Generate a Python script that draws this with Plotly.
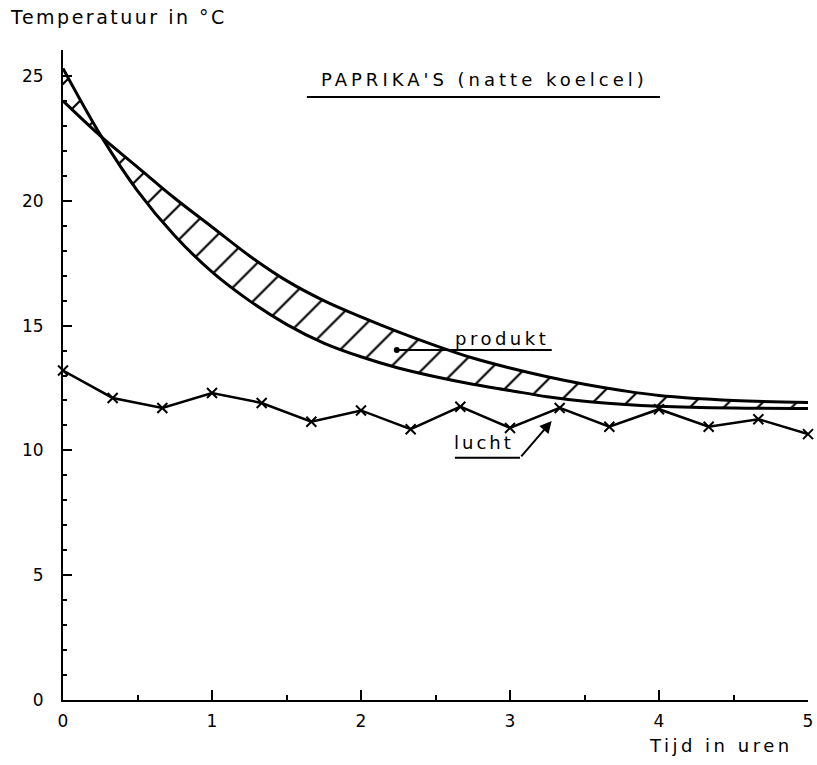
import plotly.graph_objects as go

# ---- data ----
t_prod = [0, 0.26, 0.5, 0.75, 1.0, 1.25, 1.5, 1.75, 2.0, 2.25, 2.5, 2.75, 3.0, 3.25, 3.5, 3.75, 4.0, 4.5, 5.0]
prod_a = [25.3, 22.55, 20.4, 18.6, 17.15, 16.0, 15.05, 14.3, 13.75, 13.3, 12.95, 12.65, 12.4, 12.15, 11.97, 11.85, 11.77, 11.7, 11.68]
prod_b = [24.0, 22.55, 21.35, 20.1, 18.95, 17.8, 16.8, 16.0, 15.35, 14.75, 14.2, 13.7, 13.3, 12.95, 12.65, 12.4, 12.2, 12.0, 11.92]

t_lucht = [0, 1/3, 2/3, 1, 4/3, 5/3, 2, 7/3, 8/3, 3, 10/3, 11/3, 4, 13/3, 14/3, 5]
lucht = [13.2, 12.1, 11.7, 12.3, 11.9, 11.15, 11.6, 10.85, 11.75, 10.9, 11.7, 10.95, 11.65, 10.95, 11.25, 10.65]

x_ticks = [0, 1, 2, 3, 4, 5]
y_ticks = [0, 5, 10, 15, 20, 25]

FONT = "DejaVu Sans"


def spaced(txt, px):
    return f'<span style="letter-spacing:{px}px">{txt}</span>'


fig = go.Figure()

fig.add_trace(go.Scatter(x=t_prod, y=prod_a, mode="lines", line=dict(color="black", width=3, shape="spline"),
                         hoverinfo="skip", showlegend=False))
fig.add_trace(go.Scatter(x=t_prod, y=prod_b, mode="lines", line=dict(color="black", width=3, shape="spline"),
                         fill="tonexty", fillcolor="white",
                         fillpattern=dict(shape="/", fgcolor="black", fgopacity=1, bgcolor="white",
                                          size=24, solidity=0.09),
                         hoverinfo="skip", showlegend=False))
fig.add_trace(go.Scatter(x=t_lucht, y=lucht, mode="lines+markers",
                         line=dict(color="black", width=2.5),
                         marker=dict(symbol="x-thin", size=10, line=dict(color="black", width=2)),
                         cliponaxis=False, showlegend=False))

# labels
fig.add_annotation(x=2.826, y=24.84, text=spaced("PAPRIKA'S (natte koelcel)", 4), showarrow=False,
                   font=dict(family=FONT, size=18, color="black"))
fig.add_shape(type="line", x0=1.637, x1=4.007, y0=24.16, y1=24.16, line=dict(color="black", width=2))

fig.add_annotation(x=2.946, y=14.5, text=spaced("produkt", 3.5), showarrow=False,
                   font=dict(family=FONT, size=18, color="black"))
fig.add_shape(type="line", x0=2.24, x1=3.28, y0=14.02, y1=14.02, line=dict(color="black", width=2))
fig.add_trace(go.Scatter(x=[2.24], y=[14.02], mode="markers", marker=dict(color="black", size=6),
                         hoverinfo="skip", showlegend=False))

fig.add_annotation(x=2.826, y=10.3, text=spaced("lucht", 3), showarrow=False,
                   font=dict(family=FONT, size=18, color="black"))
fig.add_shape(type="line", x0=2.63, x1=3.067, y0=9.7, y1=9.7, line=dict(color="black", width=2))
fig.add_annotation(x=3.28, y=11.18, ax=3.067, ay=9.7, axref="x", ayref="y", text="",
                   showarrow=True, arrowhead=2, arrowsize=1.2, arrowwidth=2, arrowcolor="black")

fig.add_annotation(xref="paper", yref="paper", x=-0.074, y=1.0, yshift=33, xanchor="left", yanchor="middle",
                   text=spaced("Temperatuur in °C", 2.5), showarrow=False,
                   font=dict(family=FONT, size=19, color="black"))
fig.add_annotation(xref="paper", yref="paper", x=0.983, y=0, yshift=-45, xanchor="right", yanchor="middle",
                   text=spaced("Tijd in uren", 3.5), showarrow=False,
                   font=dict(family=FONT, size=18, color="black"))

fig.update_layout(
    width=817, height=765,
    margin=dict(l=63, r=9, t=50, b=65, autoexpand=False),
    paper_bgcolor="white", plot_bgcolor="white",
    font=dict(family=FONT, size=17, color="black"),
    xaxis=dict(range=[0, 5], tickvals=x_ticks, ticktext=[str(v) for v in x_ticks], automargin=False,
               showgrid=False, zeroline=False, showline=True, linecolor="black", linewidth=2,
               ticks="inside", ticklen=10, tickwidth=2, tickcolor="black", ticklabelstandoff=5,
               minor=dict(dtick=0.5, ticks="inside", ticklen=5, tickwidth=1.5, tickcolor="black")),
    yaxis=dict(range=[0, 26.04], tickvals=y_ticks, ticktext=[str(v) for v in y_ticks], automargin=False,
               showgrid=False, zeroline=False, showline=True, linecolor="black", linewidth=2,
               ticks="inside", ticklen=9, tickwidth=2, tickcolor="black", ticklabelstandoff=14,
               minor=dict(dtick=1, ticks="inside", ticklen=4, tickwidth=1.5, tickcolor="black")),
)

fig.write_html("out.html")
